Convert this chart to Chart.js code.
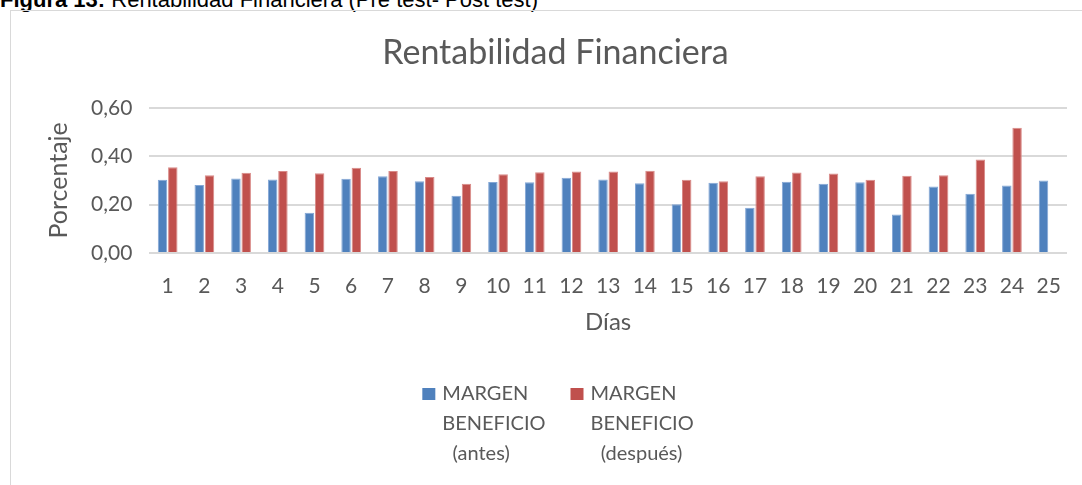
<!DOCTYPE html>
<html>
<head>
<meta charset="utf-8">
<script src="https://cdn.jsdelivr.net/npm/chart.js@4"></script>
<style>
  body { margin: 0; width: 1082px; height: 485px; overflow: hidden; background: #fff; position: relative; }
  #cap { position: absolute; left: 0; top: -11px; font: 22px/22px "Liberation Sans", Arial, sans-serif; color: #000; white-space: nowrap; }
  #marco { position: absolute; left: 10px; top: 10px; width: 1100px; height: 500px; border: 1px solid #d9d9d9; }
  #grafico { position: absolute; left: 0; top: 0; }
</style>
</head>
<body>
<div id="cap"><b>Figura 13:</b> Rentabilidad Financiera (Pre test- Post test)</div>
<div id="marco"><canvas id="grafico" width="1082" height="474"></canvas></div>
<script>
// Datos
const dias = ['1','2','3','4','5','6','7','8','9','10','11','12','13','14','15','16','17','18','19','20','21','22','23','24','25'];
const margenAntes = [0.303, 0.281, 0.308, 0.304, 0.166, 0.307, 0.317, 0.297, 0.237, 0.293, 0.292, 0.311, 0.304,
  0.288, 0.201, 0.290, 0.187, 0.294, 0.286, 0.292, 0.159, 0.275, 0.245, 0.279, 0.300];
const margenDespues = [0.354, 0.321, 0.332, 0.339, 0.330, 0.352, 0.339, 0.314, 0.286, 0.325, 0.334, 0.337, 0.337,
  0.340, 0.303, 0.296, 0.317, 0.333, 0.329, 0.303, 0.319, 0.321, 0.386, 0.518, null];
const yTicks = ['0,00', '0,20', '0,40', '0,60'];
const leyendaAntes = ['MARGEN', 'BENEFICIO', '  (antes)'];
const leyendaDespues = ['MARGEN', 'BENEFICIO', '  (después)'];

const gris = '#595959';

/* Leyenda en varias lineas, como la de Excel */
const leyendaPlugin = {
  id: 'leyenda',
  afterDraw(chart) {
    const ctx = chart.ctx;
    ctx.save();
    ctx.font = '20px Lato';
    ctx.textBaseline = 'middle';
    ctx.textAlign = 'left';
    const caja = 13, sepCaja = 7, sepItem = 25, alto = 30;
    const items = chart.data.datasets.map(ds => ({
      lineas: ds.leyenda,
      color: ds.backgroundColor,
      w: Math.max(...ds.leyenda.map(l => ctx.measureText(l).width))
    }));
    let total = 0;
    items.forEach((it, i) => { total += caja + sepCaja + it.w + (i ? sepItem : 0); });
    let x = chart.width / 2 - total / 2 + 6;
    const y0 = chart.chartArea.bottom + 141;
    items.forEach(it => {
      ctx.fillStyle = it.color;
      ctx.fillRect(x, y0 - 6, caja, 12);
      ctx.fillStyle = gris;
      it.lineas.forEach((l, k) => ctx.fillText(l, x + caja + sepCaja, y0 + k * alto));
      x += caja + sepCaja + it.w + sepItem;
    });
    ctx.restore();
  }
};

const ctx = document.getElementById('grafico').getContext('2d');
const chart = new Chart(ctx, {
  type: 'bar',
  data: {
    labels: dias,
    datasets: [{
      label: 'MARGEN BENEFICIO (antes)',
      leyenda: leyendaAntes,
      data: margenAntes,
      backgroundColor: '#4F81BD',
      borderColor: '#84A7D6',
      borderWidth: 1,
      categoryPercentage: 0.56,
      barPercentage: 0.92
    }, {
      label: 'MARGEN BENEFICIO (después)',
      leyenda: leyendaDespues,
      data: margenDespues,
      backgroundColor: '#C0504D',
      borderColor: '#D98A88',
      borderWidth: 1,
      categoryPercentage: 0.56,
      barPercentage: 0.92
    }]
  },
  options: {
    responsive: false,
    animation: false,
    layout: {
      padding: { top: 12, left: 33, right: 26, bottom: 148 }
    },
    plugins: {
      legend: { display: false },
      tooltip: { enabled: false },
      title: {
        display: true,
        text: 'Rentabilidad Financiera',
        color: gris,
        font: { family: 'Lato', size: 34, weight: 'normal' },
        padding: { top: 10, bottom: 34 }
      }
    },
    scales: {
      x: {
        grid: { display: false, drawTicks: false },
        border: { display: false },
        ticks: { color: gris, font: { family: 'Lato', size: 21 }, padding: 21, maxRotation: 0, autoSkip: false },
        title: {
          display: true,
          text: 'Días',
          color: gris,
          font: { family: 'Lato', size: 24 },
          padding: { top: -12, bottom: 0 }
        }
      },
      y: {
        min: 0,
        max: 0.6,
        grid: { color: '#d9d9d9', lineWidth: 2, drawTicks: false },
        border: { display: false },
        ticks: {
          stepSize: 0.2,
          color: gris,
          font: { family: 'Lato', size: 21 },
          padding: 17,
          callback: (v, i) => yTicks[i]
        },
        title: {
          display: true,
          text: 'Porcentaje',
          color: gris,
          font: { family: 'Lato', size: 25 },
          padding: { top: 0, bottom: 0 }
        }
      }
    }
  },
  plugins: [leyendaPlugin]
});
</script>
</body>
</html>
